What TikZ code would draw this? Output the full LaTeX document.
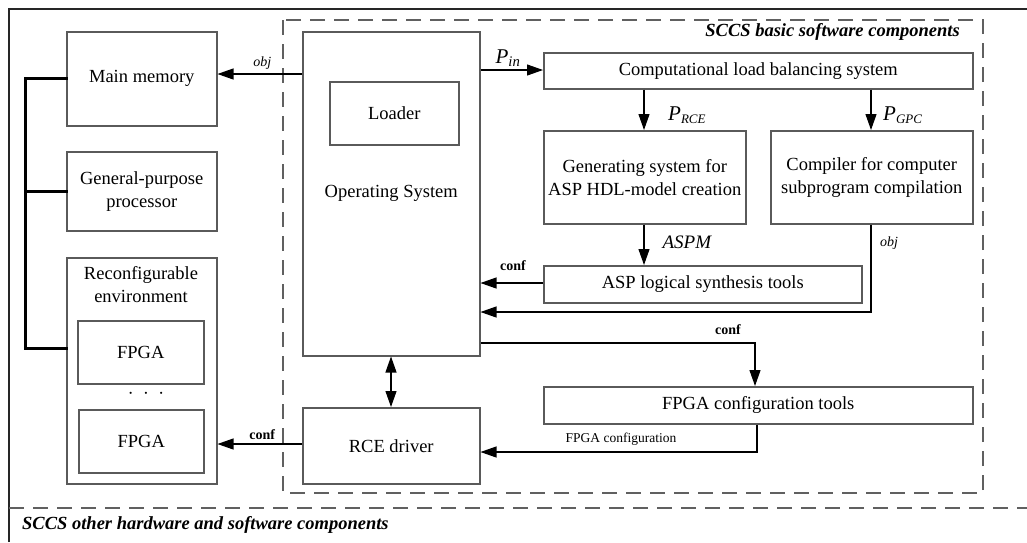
\documentclass[tikz,border=0pt]{standalone}
\usepackage{fontspec}
\setmainfont{Liberation Serif}
\usetikzlibrary{arrows.meta,calc}
\definecolor{boxgray}{HTML}{5A5A5A}
\definecolor{dashgray}{HTML}{606060}
\begin{document}
\begin{tikzpicture}[x=1pt,y=-1pt,
  box/.style={draw=boxgray, line width=1.5pt, anchor=north west, inner sep=0pt, align=center,
    font=\fontsize{18.5}{23}\selectfont},
  arr/.style={-{Triangle[length=16pt,width=11pt]}, line width=1.1pt},
  darr/.style={{Triangle[length=16pt,width=11pt]}-{Triangle[length=16pt,width=11pt]}, line width=1.1pt},
  bus/.style={line width=3pt, line cap=rect},
  grp/.style={draw=dashgray, line width=1.5pt, dash pattern=on 15pt off 9pt},
  lbit/.style={font=\fontsize{14}{16}\selectfont\itshape, inner sep=1pt},
  lbbf/.style={font=\fontsize{14}{16}\selectfont\bfseries, inner sep=1pt},
  plab/.style={font=\fontsize{21}{24}\selectfont\itshape, inner sep=1pt},
  title/.style={font=\fontsize{18.5}{22}\selectfont\bfseries\itshape, inner sep=0pt}
]
\useasboundingbox (0,0) rectangle (1027,542);

% outer frame and groups
\draw[line width=1.5pt, draw=black!85] (9,542) -- (9,9) -- (1027,9);
\draw[grp] (9,508) -- (1027,508);
\node[title, anchor=west] (otherlab) at (22,525) {SCCS other hardware and software components};
\draw[grp] (283,20) rectangle (983,493);
\node[title, anchor=east] (basiclab) at (960,32) {SCCS basic software components};

% left hardware
\node[box, minimum width=150pt, minimum height=94pt] (mm) at (66,31) {Main memory};
\node[box, minimum width=150pt, minimum height=79pt] (gpp) at (66,151) {General-purpose\\processor};
\node[box, minimum width=150pt, minimum height=226pt] (env) at (66,257) {};
\node[font=\fontsize{18.5}{23}\selectfont, align=center, anchor=north] (envlab) at (141,263) {Reconfigurable\\environment};
\node[box, minimum width=126pt, minimum height=63pt] (fpga1) at (77,320) {FPGA};
\node[font=\fontsize{20}{23}\selectfont] (dots) at (146,394) {$\cdot\ \cdot\ \cdot$};
\node[box, minimum width=125pt, minimum height=63pt] (fpga2) at (78,409) {FPGA};

% bus
\coordinate (b1) at (25,78);
\coordinate (b2) at (25,191);
\coordinate (b3) at (25,348);
\draw[bus] (mm.west |- b1) -- (b1) -- (b3) -- (env.west |- b3);
\draw[bus] (b2) -- (gpp.west |- b2);

% OS and driver
\node[box, minimum width=177pt, minimum height=324pt] (os) at (302,31) {Operating System};
\node[box, minimum width=129pt, minimum height=63pt] (loader) at (329,81) {Loader};
\node[box, minimum width=177pt, minimum height=76pt] (rce) at (302,407) {RCE driver};

% software tools
\node[box, minimum width=429pt, minimum height=36pt] (clb) at (543,52) {Computational load balancing system};
\node[box, minimum width=202pt, minimum height=93pt] (gen) at (543,130) {Generating system for\\ASP HDL-model creation};
\node[box, minimum width=202pt, minimum height=93pt] (comp) at (770,130) {Compiler for computer\\subprogram compilation};
\node[box, minimum width=318pt, minimum height=37pt] (asp) at (543,265) {ASP logical synthesis tools};
\node[box, minimum width=429pt, minimum height=37pt] (fct) at (543,386) {FPGA configuration tools};

% connectors
\coordinate (yobj) at (0,74);
\draw[arr] (os.west |- yobj) -- (mm.east |- yobj) node[lbit, pos=0.47, above=3pt] {obj};

\coordinate (yconf) at (0,444);
\draw[arr] (rce.west |- yconf) -- (env.east |- yconf) node[lbbf, pos=0.47, above=3pt] {conf};

\draw[darr] (os.south -| 391,0) -- (rce.north -| 391,0);

\coordinate (ypin) at (0,70);
\draw[arr] (os.east |- ypin) -- (clb.west |- ypin);
\node[plab, anchor=base] (pin) at (508,63) {P\textsubscript{in}};

\coordinate (xl) at (644,0);
\coordinate (xr) at (871,0);
\draw[arr] (clb.south -| xl) -- (gen.north -| xl);
\node[plab, anchor=base west] (prce) at (667,120) {P\textsubscript{\fontsize{13}{14}\selectfont RCE}};
\draw[arr] (clb.south -| xr) -- (comp.north -| xr);
\node[plab, anchor=base west] (pgpc) at (882,120) {P\textsubscript{\fontsize{13}{14}\selectfont GPC}};

\draw[arr] (gen.south -| xl) -- (asp.north -| xl);
\node[font=\fontsize{19}{22}\selectfont\itshape, anchor=base west] (aspm) at (659,248) {ASPM};

\coordinate (yc2) at (0,283);
\draw[arr] (asp.west |- yc2) -- (os.east |- yc2);
\node[lbbf, anchor=base] (conf2) at (513,270) {conf};

\coordinate (yobj2) at (0,312);
\draw[arr] (comp.south -| xr) -- (xr |- yobj2) -- (os.east |- yobj2);
\node[lbit, anchor=base] (obj2) at (889,246) {obj};

\coordinate (yc3) at (0,343);
\coordinate (xc3) at (755,0);
\draw[arr] (os.east |- yc3) -- (xc3 |- yc3) -- (fct.north -| xc3);
\node[lbbf, anchor=base] (conf3) at (728,334) {conf};

\coordinate (yfc) at (0,452);
\coordinate (xfc) at (757,0);
\draw[arr] (fct.south -| xfc) -- (xfc |- yfc) -- (rce.east |- yfc);
\node[font=\fontsize{13.5}{15}\selectfont, anchor=base] (fclab) at (621,442) {FPGA configuration};
\end{tikzpicture}
\end{document}
